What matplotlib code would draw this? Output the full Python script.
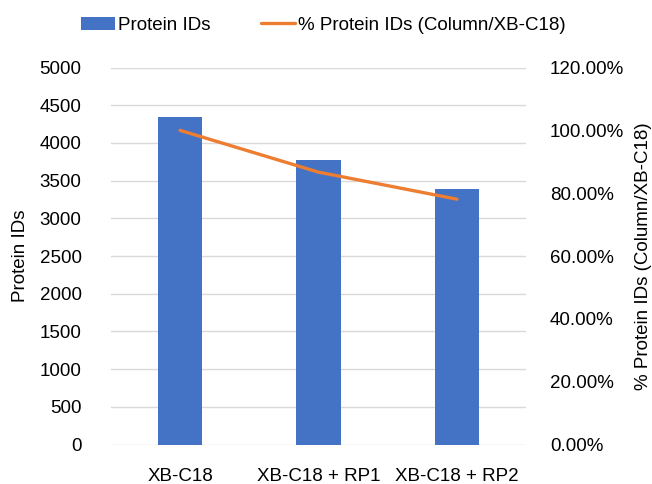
import matplotlib
matplotlib.use("Agg")
from matplotlib import pyplot as plt
from matplotlib.ticker import FuncFormatter

plt.rcParams['font.family'] = ['Liberation Sans', 'DejaVu Sans']

columns = ["XB-C18", "XB-C18 + RP1", "XB-C18 + RP2"]
protein_ids = [4346, 3767, 3395]
pct_ids = [1.000, 0.867, 0.781]

fig = plt.figure(figsize=(6.52, 4.84), dpi=100)
ax = fig.add_axes([0.170, 0.0815, 0.637, 0.779])
ax2 = ax.twinx()

x = range(len(columns))
bars = ax.bar(x, protein_ids, width=0.32, color='#4472C4', label='Protein IDs', zorder=3)
line, = ax2.plot(x, pct_ids, color='#ED7D31', lw=2.4, solid_capstyle='round',
                 label='% Protein IDs (Column/XB-C18)', zorder=4)

ax.set_xlim(-0.5, 2.5)
ax.set_ylim(0, 5000)
ax.set_yticks(range(0, 5001, 500))
ax2.set_ylim(0, 1.2)
ax2.set_yticks([0, 0.2, 0.4, 0.6, 0.8, 1.0, 1.2])
ax2.yaxis.set_major_formatter(FuncFormatter(lambda v, p: "%.2f%%" % (v * 100)))

ax.set_xticks(list(x))
ax.set_xticklabels(columns)
ax.grid(axis='y', color='#D9D9D9', lw=1, zorder=0)
for a in (ax, ax2):
    for s in a.spines.values():
        s.set_visible(False)
fs = 13.5
ax.tick_params(axis='both', length=0, labelsize=fs)
ax.tick_params(axis='y', pad=21)
ax.tick_params(axis='x', pad=17)
ax2.tick_params(axis='y', length=0, labelsize=fs, pad=17)

ax.set_ylabel("Protein IDs", fontsize=fs, labelpad=8)
ax2.set_ylabel("% Protein IDs (Column/XB-C18)", fontsize=fs, labelpad=8)

fig.legend(handles=[bars, line], loc='center', bbox_to_anchor=(0.496, 0.948),
           ncol=2, frameon=False, fontsize=fs, handlelength=1.8, columnspacing=2.7,
           handletextpad=0.15, borderpad=0)

fig.savefig("out.png", dpi=100)
